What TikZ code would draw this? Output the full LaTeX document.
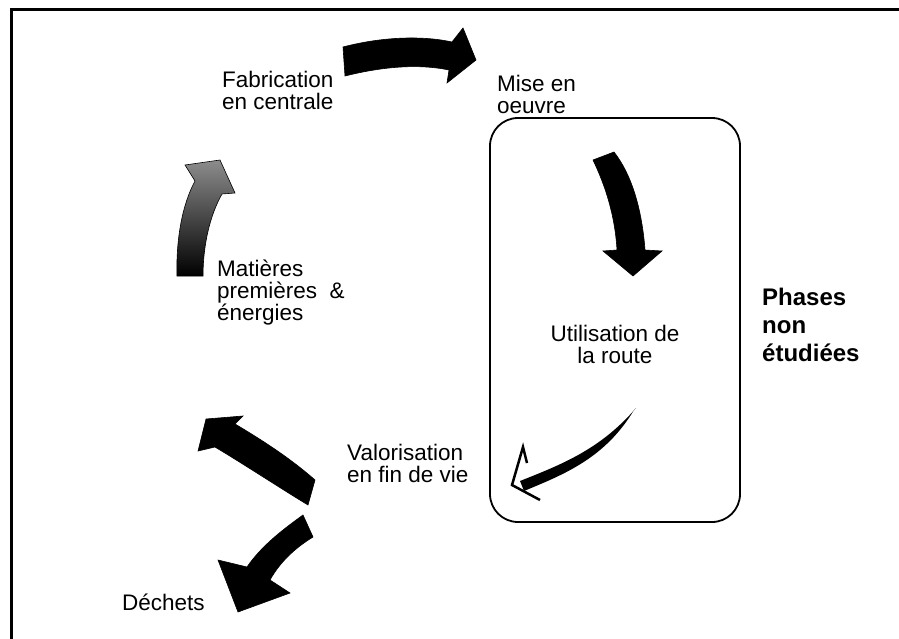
\documentclass[tikz,border=0pt]{standalone}
\usepackage{fontspec}
\setmainfont{Liberation Sans}
\begin{document}
\begin{tikzpicture}[x=1pt,y=-1pt,
  lbl/.style={inner sep=0pt, anchor=base west, align=left, font=\fontsize{22.5}{22}\selectfont},
  lblc/.style={inner sep=0pt, anchor=base, align=center, font=\fontsize{22.5}{22}\selectfont},
  blbl/.style={inner sep=0pt, anchor=base west, align=left, font=\fontsize{24}{28}\selectfont\bfseries},
  bigarrow/.style={fill=black, draw=black, line width=0.6pt, line join=miter}]
\useasboundingbox (0,0) rectangle (899,639);
\fill[white] (0,0) rectangle (899,639);
% frame
\draw[line width=3pt] (11,639) -- (11,10) -- (899,10);
% box
\node[draw, line width=1.8pt, rounded corners=28pt, minimum width=250pt, minimum height=404pt, inner sep=0pt] (box) at (615,320) {};
% labels (base anchor = baseline of last line)
\node[lbl] (fab) at (222,110) {Fabrication\\en centrale};
\node[lbl] (mise) at (497,114) {Mise en\\oeuvre};
\node[lblc] (util) at (615,363) {Utilisation de\\la route};
\node[lbl] (mat) at (217,320) {Matières\\premières~~\&\\énergies};
\node[lbl] (valo) at (347,482) {Valorisation\\en fin de vie};
\node[lbl] (dech) at (122,610) {Déchets};
\node[blbl] (phases) at (762,361) {Phases\\non\\étudiées};
% top arrow
\path[bigarrow] (343,47) .. controls (385,36) and (425,36) .. (452,42) -- (463,28) -- (476,60) -- (447,83) -- (449,70) .. controls (420,64) and (385,66) .. (345,76) -- cycle;
% right down arrow
\path[bigarrow] (593,160) .. controls (605,185) and (615,215) .. (617,250) -- (603,251) -- (633,276) -- (662,251) -- (645,250) .. controls (642,210) and (632,175) .. (614,152) -- cycle;
% thin arrow
\fill (636,408) .. controls (600,450) and (560,465) .. (520,481) -- (524,491) .. controls (565,474) and (605,458) .. (634,410) -- cycle;
\draw[line width=2.5pt, line join=miter] (527,463) -- (523,447) -- (512,485) -- (540,500);
% left arrow (valorisation -> matieres)
\path[bigarrow] (315,480) .. controls (290,458) and (262,440) .. (235,424) -- (243,416) -- (206,419) -- (198,451) -- (215,447) .. controls (245,465) and (280,488) .. (308,505) -- cycle;
% lower arrow to dechets
\path[bigarrow] (303,515) .. controls (285,528) and (262,545) .. (247,567) -- (218,560) -- (238,612) -- (290,593) -- (270,580) .. controls (280,562) and (295,548) .. (313,537) -- cycle;
% up arrow (matieres -> fabrication)
\path[draw=black, line width=0.6pt, top color=black!45, bottom color=black] (177,276) .. controls (176,240) and (182,205) .. (195,181) -- (185,165) -- (220,160) -- (235,193) -- (222,194) .. controls (210,215) and (203,245) .. (203,276) -- cycle;
\end{tikzpicture}
\end{document}
